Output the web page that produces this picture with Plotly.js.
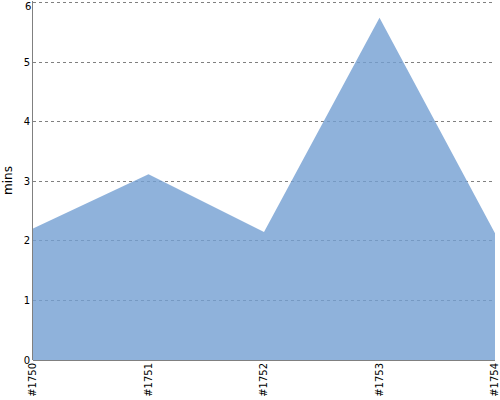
<!DOCTYPE html>
<html><head><meta charset="utf-8">
<script src="https://cdn.plot.ly/plotly-3.0.1.min.js"></script>
<style>body{margin:0;padding:0;background:#fff}#chart{width:500px;height:400px}</style>
</head><body><div id="chart"></div>
<script>
const builds = ["#1750", "#1751", "#1752", "#1753", "#1754"];
const minutes = [2.21, 3.12, 2.15, 5.75, 2.13];
const yTicks = [0, 1, 2, 3, 4, 5, 6];
const yMax = 6;

Plotly.newPlot('chart', [{
  x: builds, y: minutes, type: 'scatter', mode: 'lines',
  fill: 'tozeroy', fillcolor: 'rgba(115,159,210,0.8)',
  line: {width: 0, color: 'rgba(115,159,210,0)'}, hoverinfo: 'none'
}], {
  width: 500, height: 400,
  margin: {l: 33, r: 5, t: 1, b: 40, pad: 0},
  paper_bgcolor: '#fff', plot_bgcolor: '#fff',
  showlegend: false,
  font: {family: 'DejaVu Sans, sans-serif', size: 10, color: '#000'},
  xaxis: {type: 'category', range: [0, 4], showgrid: false, zeroline: false,
    tickangle: -90, ticks: '', showline: false, tickfont: {size: 10}},
  yaxis: {range: [0, 6.03], tickvals: yTicks, showgrid: true, gridcolor: '#808080',
    griddash: 'dot', gridwidth: 1, zeroline: true, zerolinecolor: '#808080', zerolinewidth: 1,
    showline: true, linecolor: '#808080', linewidth: 1, ticks: '', ticklen: 0,
    title: {text: 'mins', font: {size: 12}, standoff: 8}, tickfont: {size: 10}},
  annotations: [{xref: 'paper', yref: 'y', x: 0, y: yMax, text: String(yMax),
    showarrow: false, xanchor: 'right', yanchor: 'top', xshift: -1, yshift: 3, borderpad: 0,
    font: {family: 'DejaVu Sans, sans-serif', size: 10, color: '#000'}}]
}, {displayModeBar: false, staticPlot: true});
</script></body></html>
